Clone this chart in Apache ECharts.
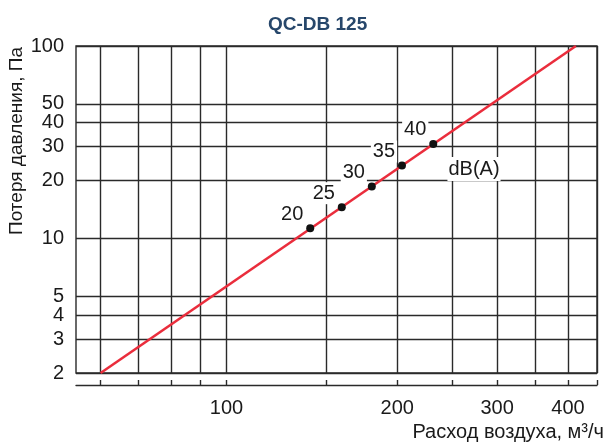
<!DOCTYPE html>
<html><head><meta charset="utf-8">
<script src="https://cdn.jsdelivr.net/npm/echarts@6/dist/echarts.min.js"></script>
<style>html,body{margin:0;padding:0;background:#fff}#c{width:606px;height:443px}</style>
</head><body><div id="c"></div>
<script>
const chartTitle = 'QC-DB 125';
const xName = 'Расход воздуха, м³/ч';
const yName = 'Потеря давления, Па';
const unitLabel = 'dB(A)';
const xGridValues = [60, 70, 80, 90, 100, 150, 200, 250, 300, 350, 400, 450];
const xLabelValues = [100, 200, 300, 400];
const yGridValues = [2, 3, 4, 5, 10, 20, 30, 40, 50, 100];
const yLabelValues = [2, 3, 4, 5, 10, 20, 30, 40, 50, 100];
const lineFlow = [60, 413];
const linePressure = [2, 100];
const pointFlow = [140.5, 159.7, 180.4, 203.9, 231.5];
const pointPressure = [11.31, 14.54, 18.62, 23.93, 30.98];
const pointDb = [20, 25, 30, 35, 40];

const FONT = 'Liberation Sans, Arial, sans-serif';
const chart = echarts.init(document.getElementById('c'), null, {renderer: 'canvas'});
const gridColor = '#2a2a2a';
chart.setOption({
  animation: false,
  backgroundColor: '#fff',
  title: {
    text: chartTitle, left: 263, top: 10,
    textStyle: {fontFamily: FONT, fontSize: 19, fontWeight: 'bold', color: '#27476b'}
  },
  grid: {left: 76, right: 9, top: 46, bottom: 70, show: true, borderColor: gridColor, borderWidth: 1.4, backgroundColor: 'transparent'},
  xAxis: {
    type: 'log', logBase: 10, min: 54.3, max: 450, offset: 12,
    axisLine: {show: true, lineStyle: {color: gridColor, width: 1.4}},
    axisTick: {show: true, inside: true, length: 5, customValues: xGridValues, lineStyle: {color: gridColor, width: 1.4}},
    axisLabel: {customValues: xLabelValues, margin: 13, fontFamily: FONT, fontSize: 20, color: '#1a1a1a'},
    splitLine: {show: true, lineStyle: {color: gridColor, width: 1.4}},
    minorSplitLine: {show: false}
  },
  yAxis: {
    type: 'log', logBase: 10, min: 2, max: 100,
    axisLine: {show: false},
    axisTick: {show: false, customValues: yGridValues},
    axisLabel: {customValues: yLabelValues, margin: 12, fontFamily: FONT, fontSize: 20, color: '#1a1a1a'},
    splitLine: {show: true, lineStyle: {color: gridColor, width: 1.4}}
  },
  graphic: [
    {type: 'text', x: 17, y: 141, rotation: Math.PI / 2,
     style: {text: yName, font: '19px ' + FONT, fill: '#1a1a1a', align: 'center', verticalAlign: 'middle'}},
    {type: 'text', x: 604, y: 432,
     style: {text: xName, font: '20px ' + FONT, fill: '#1a1a1a', align: 'right', verticalAlign: 'middle'}},
    {type: 'text', x: 474, y: 169, z: 100,
     style: {text: unitLabel, font: '20px ' + FONT, fill: '#1a1a1a', align: 'center', verticalAlign: 'middle', backgroundColor: '#fff', padding: [2, 1]}}
  ],
  series: [
    {
      type: 'line', symbol: 'none', z: 3,
      data: lineFlow.map((f, i) => [f, linePressure[i]]),
      lineStyle: {color: '#ea2d3c', width: 2.6}
    },
    {
      type: 'scatter', symbol: 'circle', symbolSize: 8, z: 4,
      itemStyle: {color: '#111', opacity: 1},
      data: pointFlow.map((f, i) => [f, pointPressure[i], pointDb[i]]),
      label: {
        show: true, position: 'top', distance: 5, offset: [-18, 6],
        formatter: p => String(p.value[2]),
        fontFamily: FONT, fontSize: 20, color: '#1a1a1a', opacity: 1,
        backgroundColor: '#fff', padding: [1, 2]
      }
    }
  ]
});
</script>
</body></html>
